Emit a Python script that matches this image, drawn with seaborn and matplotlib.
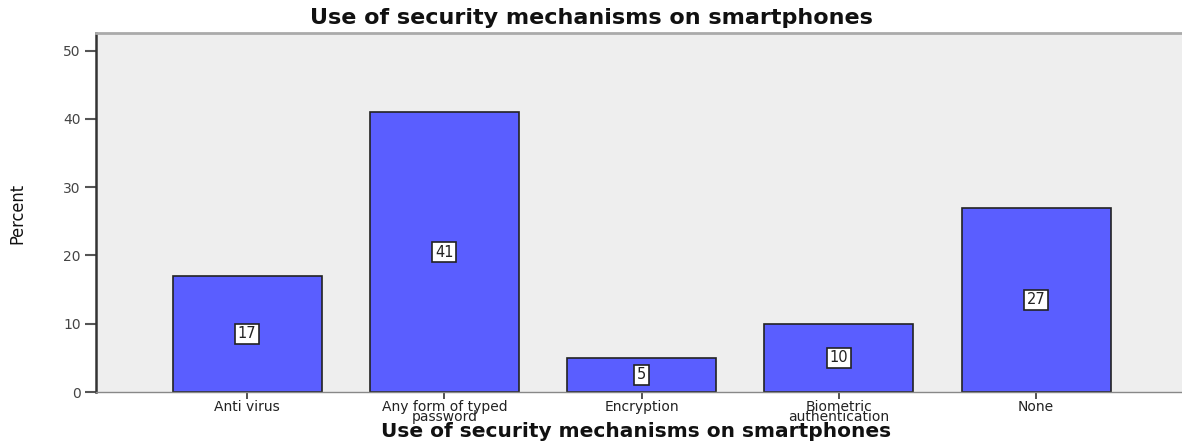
import matplotlib
matplotlib.use("Agg")
import matplotlib.pyplot as plt
import seaborn as sns
import pandas as pd

categories = ["Anti virus", "Any form of typed\npassword", "Encryption",
              "Biometric\nauthentication", "None"]
percent = [17, 41, 5, 10, 27]
yticks = [0, 10, 20, 30, 40, 50]
title = "Use of security mechanisms on smartphones"

sns.set_theme(style="white")
plt.rcParams['font.family'] = ['DejaVu Sans']

df = pd.DataFrame({"cat": categories, "pct": percent})

fig = plt.figure(figsize=(11.82, 4.42), dpi=100)
ax = fig.add_axes([96/1182, 50/442, 1 - 96/1182, (392-33)/442])
ax.set_facecolor("#eeeeee")

sns.barplot(data=df, x="cat", y="pct", color="#5a5eff", saturation=1,
            width=0.755, edgecolor="#222222", linewidth=1.2, ax=ax)

ax.set_xlim(-0.766, 4.74)
ax.set_ylim(0, 52.6)
ax.set_yticks(yticks)
ax.set_yticklabels([str(t) for t in yticks], fontsize=10, color="#444444")
ax.tick_params(axis="y", length=8, width=1.5, color="#555555", pad=3, left=True)
ax.tick_params(axis="x", length=5, width=1.2, color="#333333", pad=1, bottom=True)
for lbl in ax.get_xticklabels():
    lbl.set_fontsize(10)
    lbl.set_linespacing(0.62)
    lbl.set_color("#222222")

for i, v in enumerate(percent):
    ax.text(i, v / 2, str(v), ha="center", va="center", fontsize=10.5,
            color="#222222",
            bbox=dict(boxstyle="square,pad=0.18", fc="white", ec="#222222", lw=1.2))

ax.spines["left"].set_color("#333333")
ax.spines["left"].set_linewidth(1.8)
ax.spines["top"].set_color("#aaaaaa")
ax.spines["top"].set_linewidth(2)
ax.spines["bottom"].set_color("#888888")
ax.spines["bottom"].set_linewidth(1)
ax.spines["right"].set_visible(False)

ax.set_xlabel("")
ax.set_ylabel("")
fig.text(636/1182, 1 - 437/442, title, ha="center", va="baseline",
         fontsize=14.5, fontweight="bold", color="#111111")
fig.text(17/1182, 1 - 213/442, "Percent", rotation=90, ha="center", va="center",
         fontsize=13, fontstretch="condensed", color="#111111")
fig.text(591/1182, 1 - 18/442, title, ha="center", va="center",
         fontsize=16, fontweight="bold", color="#111111")

fig.savefig("out.png", dpi=100)
